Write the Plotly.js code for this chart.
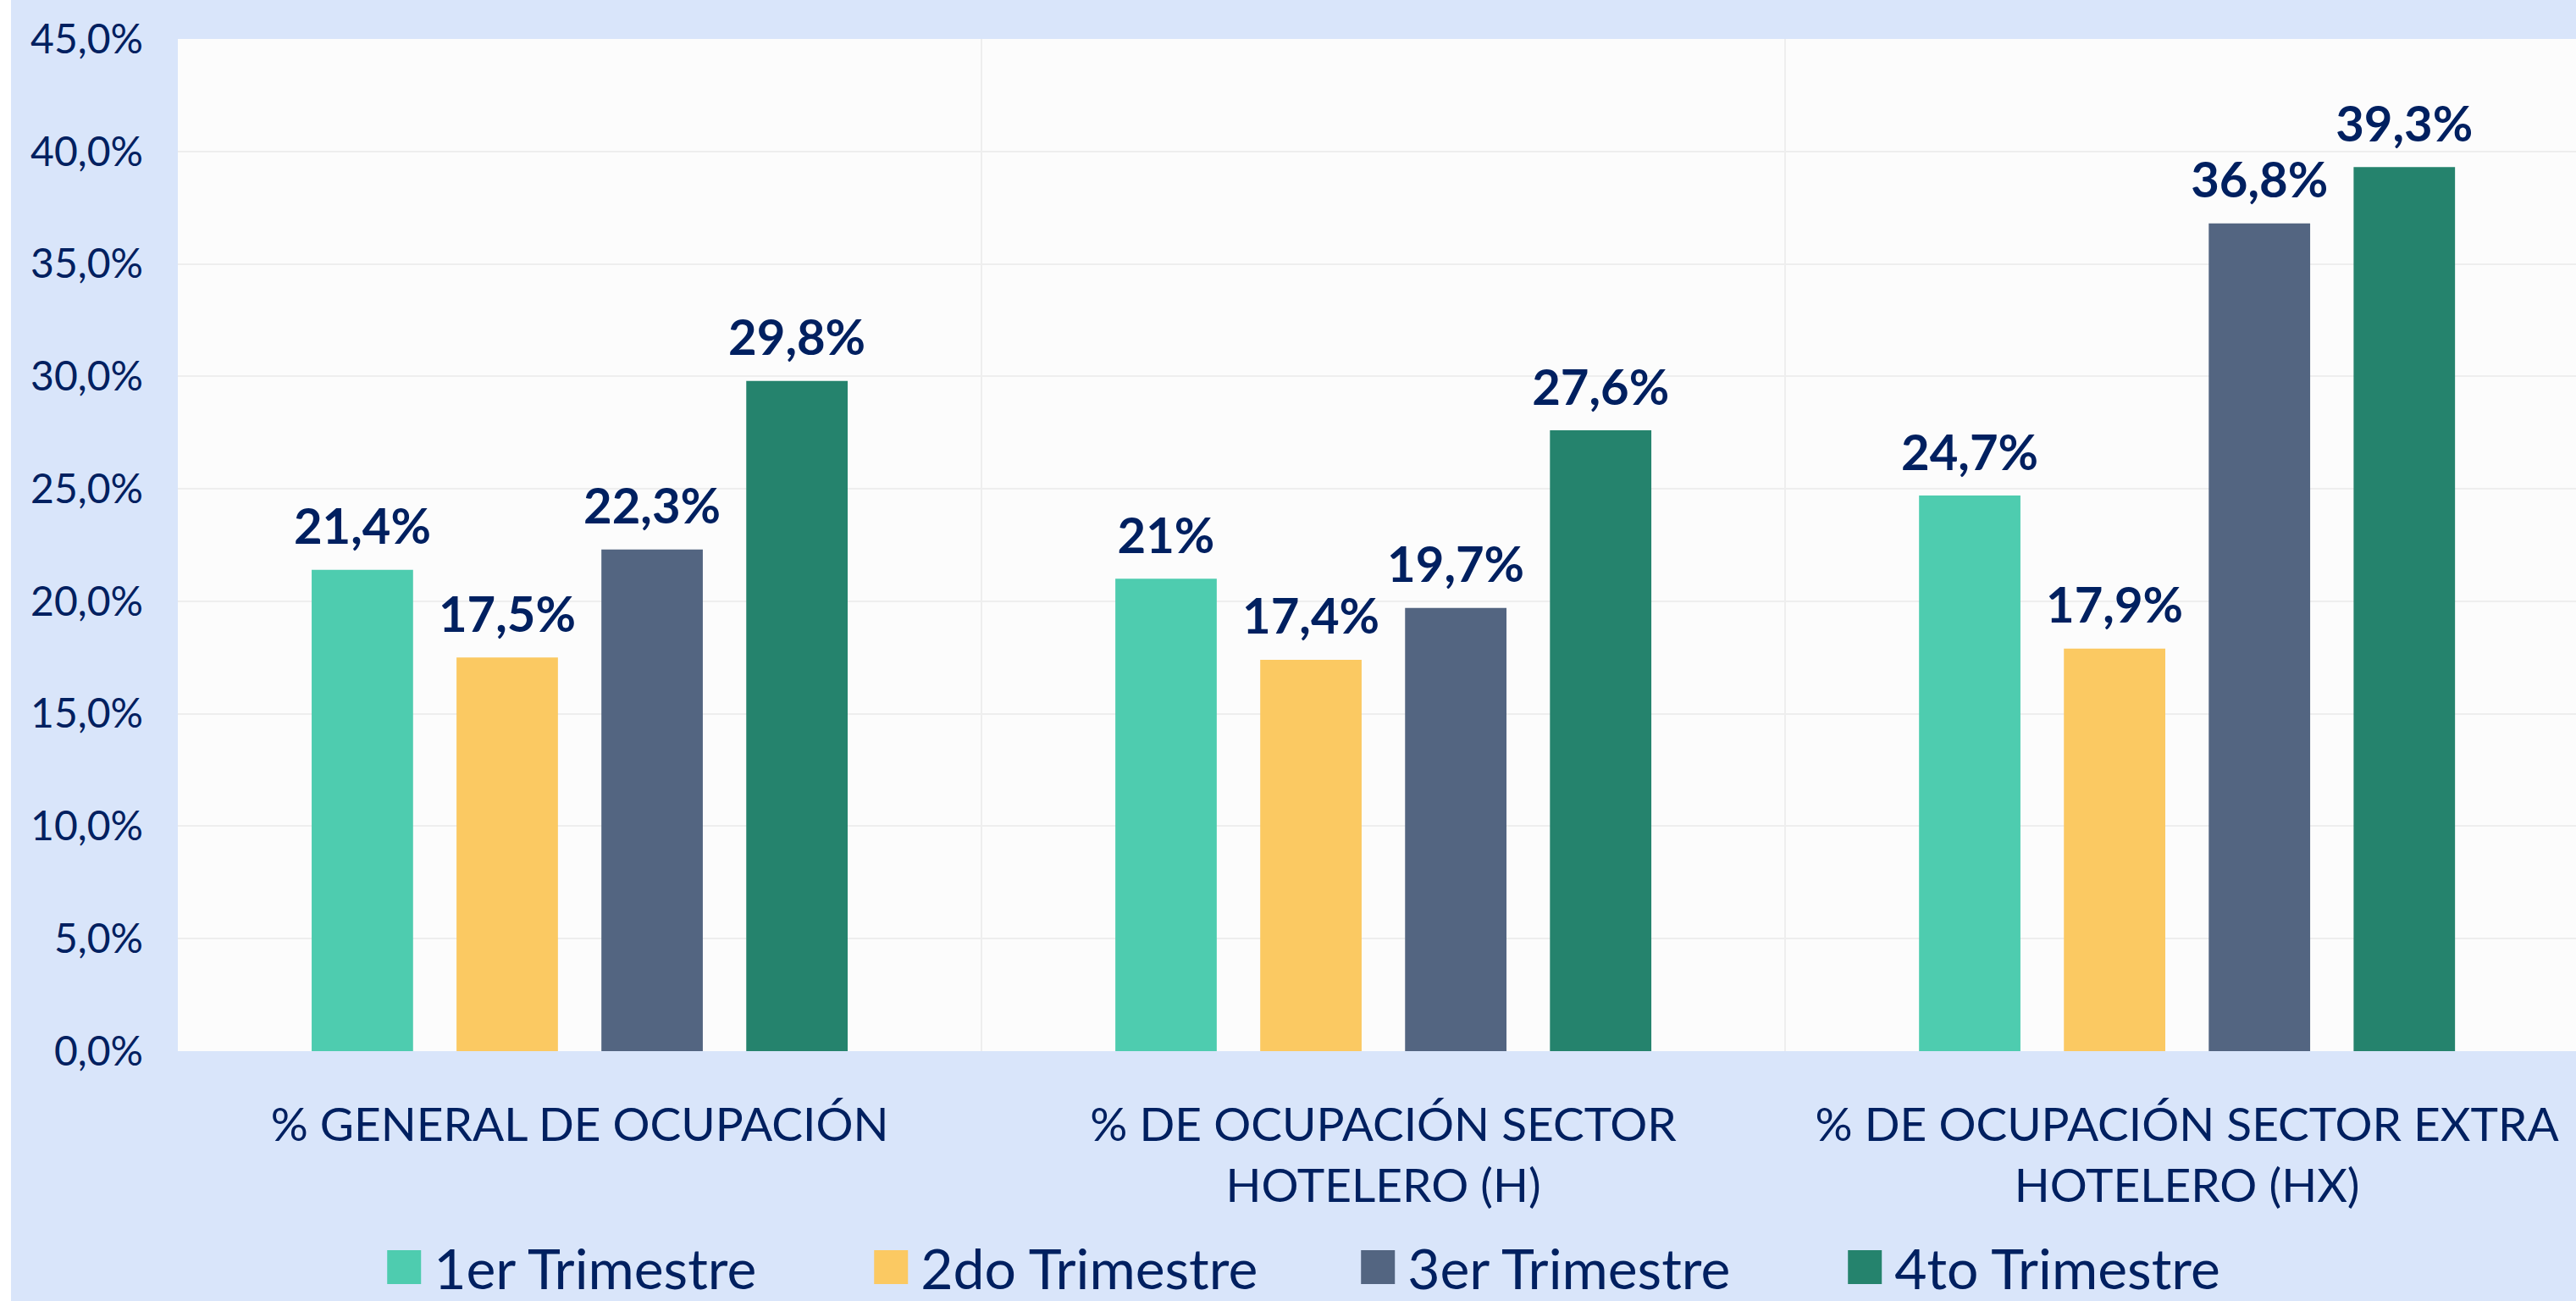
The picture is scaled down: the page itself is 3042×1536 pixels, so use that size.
<!DOCTYPE html>
<html>
<head>
<meta charset="utf-8">
<script src="https://cdn.plot.ly/plotly-3.0.1.min.js"></script>
<style>
html, body { margin: 0; padding: 0; background: #ffffff; overflow: hidden; }
#chart { position: absolute; left: 13px; top: 0; width: 3029px; height: 1536px; }
</style>
</head>
<body>
<div id="chart"></div>
<script>
const categories = [
  "% GENERAL DE OCUPACIÓN",
  "% DE OCUPACIÓN SECTOR<br>HOTELERO (H)",
  "% DE OCUPACIÓN SECTOR EXTRA<br>HOTELERO (HX)"
];
const seriesNames = ["1er Trimestre", "2do Trimestre", "3er Trimestre", "4to Trimestre"];
const q1 = [0.214, 0.210, 0.247];
const q2 = [0.175, 0.174, 0.179];
const q3 = [0.223, 0.197, 0.368];
const q4 = [0.298, 0.276, 0.393];
const q1Labels = ["21,4%", "21%", "24,7%"];
const q2Labels = ["17,5%", "17,4%", "17,9%"];
const q3Labels = ["22,3%", "19,7%", "36,8%"];
const q4Labels = ["29,8%", "27,6%", "39,3%"];
const colors = ["#4ECCAF", "#FBC962", "#536581", "#25836D"];

const values = [q1, q2, q3, q4];
const labels = [q1Labels, q2Labels, q3Labels, q4Labels];
const navy = "#002060";
const FONT = "Lato, 'Open Sans', sans-serif";
const GAP = 0.279;

const traces = [];
values.forEach((v, i) => {
  traces.push({
    type: "bar",
    name: seriesNames[i],
    x: categories,
    y: v,
    offsetgroup: String(i),
    marker: { color: colors[i] },
    hoverinfo: "skip"
  });
});
values.forEach((v, i) => {
  traces.push({
    type: "scatter",
    mode: "markers+text",
    x: categories,
    y: v,
    offsetgroup: String(i),
    text: labels[i],
    textposition: "top center",
    textfont: { family: FONT, size: 58, color: navy, weight: "bold" },
    marker: { size: 24, color: "rgba(0,0,0,0)" },
    showlegend: false,
    cliponaxis: false,
    hoverinfo: "skip"
  });
});

const layout = {
  width: 3029,
  height: 1536,
  paper_bgcolor: "#D9E5FA",
  plot_bgcolor: "#FCFCFC",
  margin: { l: 197, r: 0, t: 46, b: 295 },
  separators: ",.",
  barmode: "group",
  bargap: GAP,
  bargroupgap: 0.30,
  scattermode: "group",
  scattergap: GAP,
  font: { family: FONT, color: navy },
  xaxis: {
    type: "category",
    range: [-0.5, 2.484],
    tickson: "boundaries",
    ticklen: 0,
    showgrid: true,
    gridcolor: "#EEEEEE",
    gridwidth: 2,
    showline: false,
    zeroline: false,
    tickfont: { family: FONT, size: 55, color: navy },
    ticklabelstandoff: 50,
    fixedrange: true
  },
  yaxis: {
    range: [0, 0.45],
    dtick: 0.05,
    tickformat: ".1%",
    showgrid: true,
    gridcolor: "#EEEEEE",
    gridwidth: 2,
    zeroline: false,
    showline: false,
    ticks: "",
    tickfont: { family: FONT, size: 48, color: navy },
    ticklabelstandoff: 40,
    fixedrange: true
  },
  showlegend: true,
  legend: {
    orientation: "h",
    x: 0.082,
    xanchor: "left",
    xref: "paper",
    y: 0.026,
    yref: "container",
    yanchor: "middle",
    font: { family: FONT, size: 66, color: navy },
    bgcolor: "rgba(0,0,0,0)",
    itemwidth: 60,
    entrywidth: 500,
    entrywidthmode: "pixels",
    itemclick: false,
    itemdoubleclick: false
  }
};

Plotly.newPlot("chart", traces, layout, { staticPlot: true, displayModeBar: false }).then(gd => {
  gd.querySelectorAll(".legend .legendpoints path").forEach(p => {
    p.setAttribute("d", "M20,20H-20V-20H20Z");
    p.style.strokeWidth = "0";
  });
});
</script>
</body>
</html>
